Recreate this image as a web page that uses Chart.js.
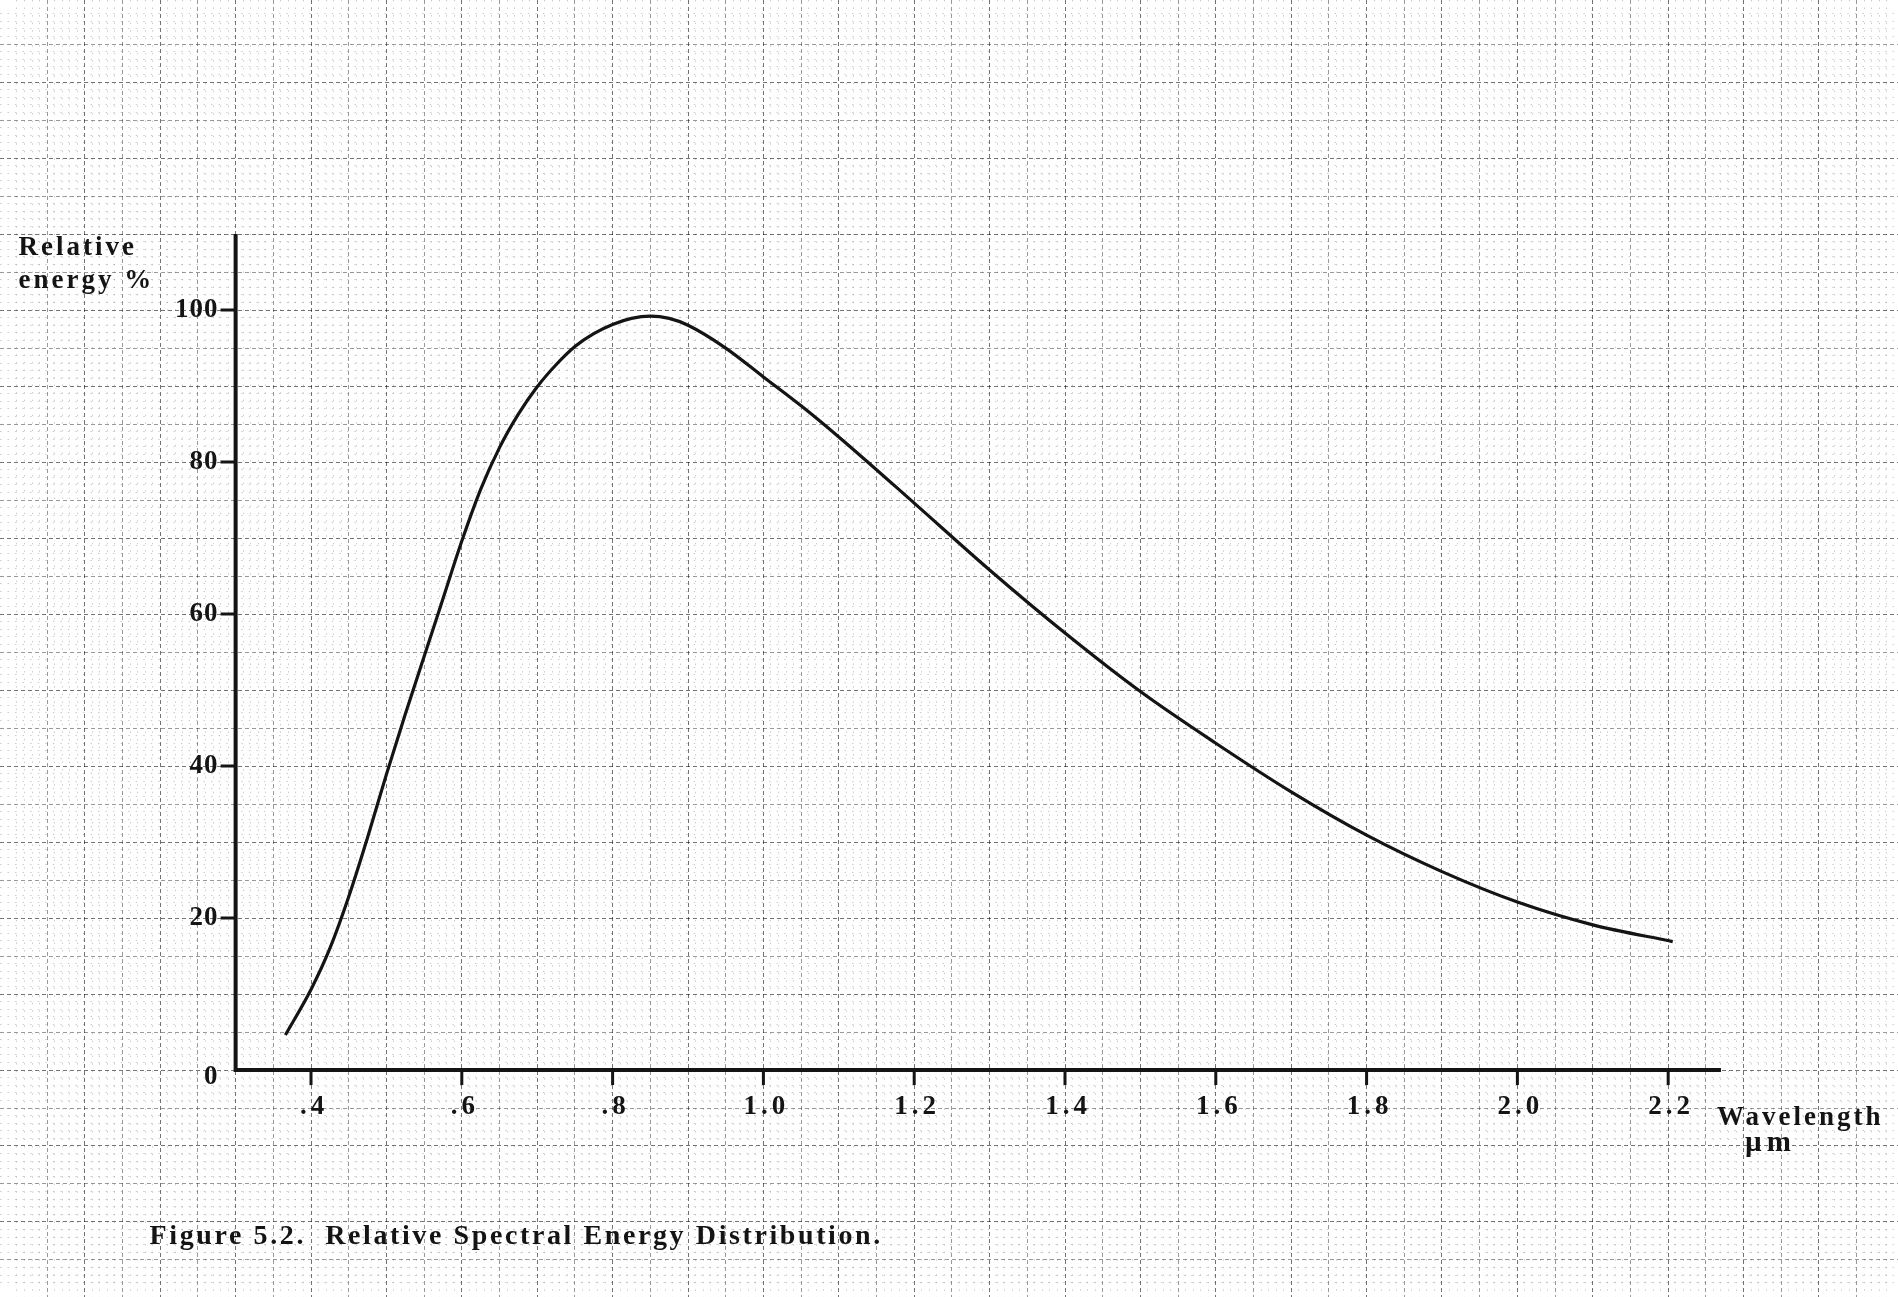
<!DOCTYPE html>
<html lang="en">
<head>
<meta charset="UTF-8">
<title>Relative Spectral Energy Distribution</title>
<style>
    body { margin: 0; background: #fff; }
    #box { width: 1898px; height: 1297px; position: relative; }
</style>
<script src="https://cdn.jsdelivr.net/npm/chart.js"></script>
</head>
<body>
<div id="box"><canvas id="chart"></canvas></div>
<script>
    // curve (wavelength in um, relative energy in %)
    const wavelength = [0.366, 0.40, 0.425, 0.45, 0.475, 0.50, 0.525, 0.55, 0.575, 0.60, 0.625, 0.65,
                        0.675, 0.70, 0.725, 0.75, 0.775, 0.80, 0.825, 0.85, 0.875, 0.90, 0.95, 1.0,
                        1.05, 1.1, 1.2, 1.3, 1.4, 1.5, 1.6, 1.7, 1.8, 1.9, 2.0, 2.1, 2.206];
    const energy = [4.6, 10.6, 16.0, 22.8, 30.6, 38.9, 46.8, 54.4, 62.0, 69.6, 76.4, 81.9,
                    86.3, 89.9, 92.8, 95.2, 96.9, 98.1, 98.9, 99.2, 98.9, 98.0, 95.0, 91.2,
                    87.4, 83.3, 74.6, 65.8, 57.5, 49.8, 43.0, 36.6, 30.9, 26.1, 22.1, 19.1, 16.9];

    const xTicks = [0.4, 0.6, 0.8, 1.0, 1.2, 1.4, 1.6, 1.8, 2.0, 2.2];
    const xTickLabels = ['.4', '.6', '.8', '1.0', '1.2', '1.4', '1.6', '1.8', '2.0', '2.2'];
    const yTicks = [0, 20, 40, 60, 80, 100];
    const yTickLabels = ['0', '20', '40', '60', '80', '100'];

    // where the drawn axes start and stop
    const xAxisStart = 0.3, xAxisEnd = 2.27;
    const yAxisTop = 110;

    // the whole sheet of graph paper, in data units
    const sheetX = [-0.0125, 2.5048];
    const sheetY = [-29.87, 140.8];

    const INK = '#141414';
    const SERIF = '"Liberation Serif", "DejaVu Serif", serif';
    const FONT = 'bold 27px ' + SERIF;

    function onStep(v, step) {
        const r = v / step;
        return Math.abs(r - Math.round(r)) < 1e-6;
    }

    // grid colour: only lines on the step, darker on the major step
    function paper(step, major, light, dark) {
        return c => {
            const v = c.tick.value;
            if (!onStep(v, step)) return 'rgba(0,0,0,0)';
            return onStep(v, major) ? dark : light;
        };
    }

    function paperScale(axis, range, step, major, light, dark, dash) {
        return {
            type: 'linear', axis: axis, min: range[0], max: range[1],
            ticks: { display: false, stepSize: step },
            grid: { color: paper(step, major, light, dark), lineWidth: 1, drawTicks: false },
            border: { display: false, dash: dash }
        };
    }

    const sheetPlugin = {
        id: 'sheet',
        beforeDatasetsDraw(chart) {
            const { ctx, scales: { x, y } } = chart;
            const x0 = x.getPixelForValue(xAxisStart), x1 = x.getPixelForValue(xAxisEnd);
            const y0 = y.getPixelForValue(0), y1 = y.getPixelForValue(yAxisTop);
            ctx.save();
            ctx.strokeStyle = INK;
            ctx.lineWidth = 4;
            ctx.beginPath();
            ctx.moveTo(x0, y1);
            ctx.lineTo(x0, y0 + 2);
            ctx.moveTo(x0 - 2, y0);
            ctx.lineTo(x1, y0);
            ctx.stroke();
            // little tick marks
            ctx.lineWidth = 3;
            ctx.beginPath();
            xTicks.forEach(v => {
                const px = x.getPixelForValue(v);
                ctx.moveTo(px, y0);
                ctx.lineTo(px, y0 + 15);
            });
            yTicks.forEach(v => {
                if (v === 0) return;
                const py = y.getPixelForValue(v);
                ctx.moveTo(x0, py);
                ctx.lineTo(x0 - 15, py);
            });
            ctx.stroke();
            ctx.restore();
        },
        afterDraw(chart) {
            const { ctx, scales: { x, y } } = chart;
            const x0 = x.getPixelForValue(xAxisStart), x1 = x.getPixelForValue(xAxisEnd);
            const y0 = y.getPixelForValue(0), y1 = y.getPixelForValue(yAxisTop);
            ctx.save();
            ctx.fillStyle = INK;
            ctx.font = FONT;
            ctx.textBaseline = 'alphabetic';

            ctx.letterSpacing = '4px';
            ctx.textAlign = 'center';
            xTicks.forEach((v, i) => {
                ctx.fillText(xTickLabels[i], x.getPixelForValue(v) + 3, y0 + 44);
            });

            ctx.letterSpacing = '1px';
            ctx.textAlign = 'right';
            yTicks.forEach((v, i) => {
                const py = y.getPixelForValue(v);
                ctx.fillText(yTickLabels[i], x0 - 17, py + (v === 0 ? 14 : 7));
            });

            ctx.letterSpacing = '3px';
            ctx.textAlign = 'left';
            ctx.fillText('Relative', x0 - 217, y1 + 21);
            ctx.fillText('energy %', x0 - 217, y1 + 54);
            ctx.fillText('Wavelength', x1 - 4, y0 + 55);
            ctx.font = 'bold 29px ' + SERIF;
            ctx.letterSpacing = '5px';
            ctx.fillText('\u00b5m', x1 + 24, y0 + 81);

            ctx.font = 'bold 28px ' + SERIF;
            ctx.letterSpacing = '2.6px';
            ctx.fillText('Figure 5.2.  Relative Spectral Energy Distribution.', x0 - 86, y0 + 174);
            ctx.restore();
        }
    };

    new Chart(document.getElementById('chart'), {
        type: 'line',
        data: {
            datasets: [{
                label: 'Relative energy %',
                data: wavelength.map((w, i) => ({ x: w, y: energy[i] })),
                borderColor: INK,
                borderWidth: 3.2,
                pointRadius: 0,
                fill: false,
                cubicInterpolationMode: 'monotone'
            }]
        },
        options: {
            responsive: true,
            maintainAspectRatio: false,
            animation: false,
            layout: { padding: 0 },
            scales: {
                xFine: paperScale('x', sheetX, 0.01, 0.05, 'rgba(0,0,0,0.2)', 'rgba(0,0,0,0)', [1.5, 6.04]),
                yFine: paperScale('y', sheetY, 1, 5, 'rgba(0,0,0,0.2)', 'rgba(0,0,0,0)', [1.5, 6.04]),
                x: paperScale('x', sheetX, 0.05, 0.1, 'rgba(0,0,0,0.4)', 'rgba(0,0,0,0.55)', [4, 3]),
                y: paperScale('y', sheetY, 5, 10, 'rgba(0,0,0,0.4)', 'rgba(0,0,0,0.55)', [4, 3])
            },
            plugins: {
                legend: { display: false },
                tooltip: { enabled: false }
            }
        },
        plugins: [sheetPlugin]
    });
</script>
</body>
</html>
